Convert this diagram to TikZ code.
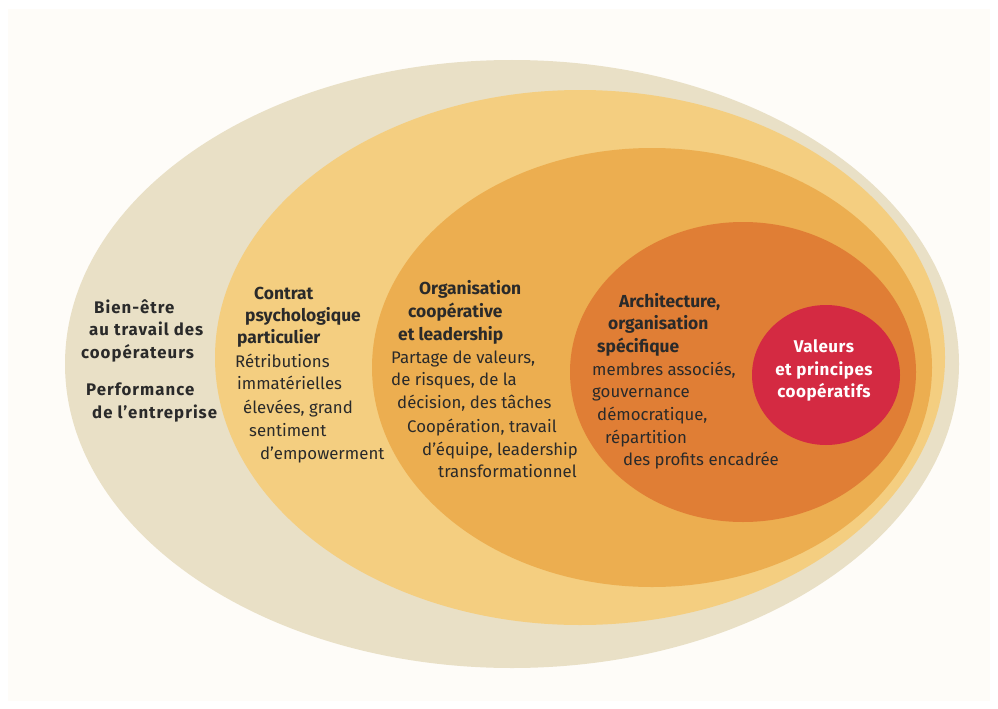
\documentclass[tikz,border=0pt]{standalone}
\usepackage{fontspec}
\setmainfont{Fira Sans}
\definecolor{bgc}{HTML}{FEFCF8}
\definecolor{beige}{HTML}{E9E0C6}
\definecolor{yel}{HTML}{F4CE80}
\definecolor{org}{HTML}{ECAE50}
\definecolor{dorg}{HTML}{E07E35}
\definecolor{redc}{HTML}{D42A42}
\definecolor{txt}{HTML}{2A2A2A}
\newcommand{\descfont}{\fontsize{16.8}{20}\selectfont}
\newcommand{\headfont}{\fontsize{17.4}{20}\selectfont\bfseries}
\newcommand{\outerfont}{\fontsize{16.8}{20}\selectfont\bfseries\addfontfeatures{LetterSpace=6}}
\newcommand{\corefont}{\fontsize{17}{20}\selectfont\bfseries\addfontfeatures{LetterSpace=3}}
\begin{document}
\begin{tikzpicture}[x=1pt,y=-1pt,
  line/.style={anchor=base west, inner sep=0pt, text=txt, font=\descfont},
  head/.style={line, font=\headfont},
  outer/.style={line, font=\outerfont},
  redline/.style={anchor=base, inner sep=0pt, text=white, font=\corefont}]
\useasboundingbox (0,0) rectangle (998,709);
\fill[white] (0,0) rectangle (998,709);
\fill[bgc] (8,9) rectangle (990,701);
% ellipses
\fill[beige] (512,364) ellipse [x radius=447pt, y radius=304pt];
\fill[yel] (580,357.5) ellipse [x radius=365pt, y radius=267.5pt];
\fill[org] (652,367.5) ellipse [x radius=280pt, y radius=219.5pt];
\fill[dorg] (743,372) ellipse [x radius=173pt, y radius=150pt];
\fill[redc] (826,375) ellipse [x radius=74pt, y radius=70pt];
% outer ring text
\node[outer] (b1) at (94,313) {Bien-être};
\node[outer] (b2) at (89,335) {au travail des};
\node[outer] (b3) at (81,358) {coopérateurs};
\node[outer] (b4) at (86,395) {Performance};
\node[outer] (b5) at (92,418) {de l’entreprise};
% second ring
\node[head] (c1) at (254,299) {Contrat};
\node[head] (c2) at (245,321) {psychologique};
\node[head] (c3) at (237,343) {particulier};
\node[line] (c4) at (235,367) {Rétributions};
\node[line] (c5) at (237,389) {immatérielles};
\node[line] (c6) at (243,413) {élevées, grand};
\node[line] (c7) at (249,436) {sentiment};
\node[line] (c8) at (260,459) {d’empowerment};
% third ring
\node[head] (o1) at (419,294) {Organisation};
\node[head] (o2) at (408,317) {coopérative};
\node[head] (o3) at (398,340) {et leadership};
\node[line] (o4) at (391,363) {Partage de valeurs,};
\node[line] (o5) at (391,385) {de risques, de la};
\node[line] (o6) at (397,408) {décision, des tâches};
\node[line] (o7) at (407,432) {Coopération, travail};
\node[line] (o8) at (422,455) {d’équipe, leadership};
\node[line] (o9) at (438,477) {transformationnel};
% fourth ring
\node[head] (a1) at (619,307) {Architecture,};
\node[head] (a2) at (608,329) {organisation};
\node[head] (a3) at (597,352) {spécifique};
\node[line] (a4) at (592,375) {membres associés,};
\node[line] (a5) at (592,397) {gouvernance};
\node[line] (a6) at (597,420) {démocratique,};
\node[line] (a7) at (605,443) {répartition};
\node[line] (a8) at (623,465) {des profits encadrée};
% core
\node[redline] (v1) at (824,352) {Valeurs};
\node[redline] (v2) at (824,375) {et principes};
\node[redline] (v3) at (824,397) {coopératifs};
\end{tikzpicture}
\end{document}
